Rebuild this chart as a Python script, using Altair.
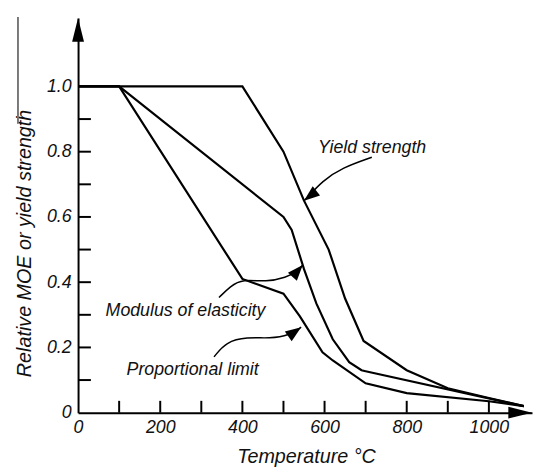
import math
import altair as alt
import pandas as pd

# ---------------- data ----------------
yield_T = [0, 400, 500, 550, 610, 650, 695, 800, 900, 1000, 1085]
yield_v = [1.0, 1.0, 0.80, 0.65, 0.50, 0.35, 0.22, 0.13, 0.075, 0.045, 0.02]

moe_T = [0, 100, 500, 520, 550, 580, 620, 660, 690, 700, 1085]
moe_v = [1.0, 1.0, 0.60, 0.56, 0.44, 0.335, 0.225, 0.155, 0.13, 0.127, 0.02]

pl_T = [0, 100, 400, 500, 540, 595, 620, 700, 800, 1000, 1085]
pl_v = [1.0, 1.0, 0.41, 0.365, 0.295, 0.185, 0.16, 0.09, 0.06, 0.035, 0.02]

x_tick_values = [100, 200, 300, 400, 500, 600, 700, 800, 900, 1000]
x_label_values = [0, 200, 400, 600, 800, 1000]
y_tick_values = [0.1, 0.2, 0.3, 0.4, 0.5, 0.6, 0.7, 0.8, 0.9]
y_label_values = [0, 0.2, 0.4, 0.6, 0.8, 1.0]

label_names = ["Yield strength", "Modulus of elasticity", "Proportional limit"]
label_T = [584, 67, 118]
label_v = [0.796, 0.296, 0.115]

# leader (arrow) curves for the labels
arrow_yield_T = [715, 643, 595, 555, 550]
arrow_yield_v = [0.783, 0.751, 0.711, 0.655, 0.650]
arrow_moe_T = [343, 371, 400, 459, 507, 531, 547]
arrow_moe_v = [0.353, 0.388, 0.410, 0.400, 0.415, 0.430, 0.453]
arrow_pl_T = [331, 360, 411, 467, 515, 543]
arrow_pl_v = [0.171, 0.217, 0.232, 0.227, 0.237, 0.262]

X_MAX = 1105
Y_MAX = 1.21
W, H = 460, 400
FONT = "Liberation Sans"

# ---------------- tables ----------------
rows = []
for name, T, v in [("Yield strength", yield_T, yield_v),
                   ("Modulus of elasticity", moe_T, moe_v),
                   ("Proportional limit", pl_T, pl_v)]:
    for i, (t, val) in enumerate(zip(T, v)):
        rows.append({"series": name, "T": t, "v": val, "i": i})
curves = pd.DataFrame(rows)

kx = W / X_MAX
ky = H / Y_MAX
arows, heads = [], []
for name, T, v in [("y", arrow_yield_T, arrow_yield_v),
                   ("m", arrow_moe_T, arrow_moe_v),
                   ("p", arrow_pl_T, arrow_pl_v)]:
    for i, (t, val) in enumerate(zip(T, v)):
        arows.append({"a": name, "T": t, "v": val, "i": i})
    dx = (T[-1] - T[-2]) * kx
    dy = -(v[-1] - v[-2]) * ky
    ang = math.degrees(math.atan2(dy, dx)) % 360
    heads.append({"T": T[-1], "v": v[-1], "ang": ang})
arrows = pd.DataFrame(arows)
heads = pd.DataFrame(heads)

labels = pd.DataFrame({"name": label_names, "T": label_T, "v": label_v})
axis_heads = pd.DataFrame({"T": [0, X_MAX], "v": [Y_MAX, 0], "ang": [270, 0]})
xt = pd.DataFrame({"T": x_tick_values})
yt = pd.DataFrame({"v": y_tick_values})

xs = alt.Scale(domain=[0, X_MAX], nice=False, zero=False)
ys = alt.Scale(domain=[0, Y_MAX], nice=False, zero=False)

x_axis = alt.Axis(
    values=x_label_values, format="d", title="Temperature °C", grid=False, ticks=False,
    domain=True, domainColor="black", domainWidth=2,
    labelFont=FONT, labelFontSize=18, labelFontStyle="italic", labelColor="#111",
    labelPadding=6, labelFlush=False, labelOverlap=False,
    titleFont=FONT, titleFontSize=20, titleFontStyle="italic", titleFontWeight="normal",
    titleColor="#111", titleX=231, titleY=44, titleBaseline="middle", titleAlign="center")
y_axis = alt.Axis(
    values=y_label_values, title="Relative MOE or yield strength", grid=False, ticks=False,
    domain=True, domainColor="black", domainWidth=2,
    labelExpr="datum.value == 0 ? '0' : format(datum.value, '.1f')",
    labelFont=FONT, labelFontSize=18, labelFontStyle="italic", labelColor="#111",
    labelPadding=7, labelFlush=False, labelOverlap=False,
    titleFont=FONT, titleFontSize=20, titleFontStyle="italic", titleFontWeight="normal",
    titleColor="#111", titleAngle=270, titleX=-54, titleY=228,
    titleBaseline="middle", titleAlign="center")

X = alt.X("T:Q", scale=xs, axis=x_axis)
Y = alt.Y("v:Q", scale=ys, axis=y_axis)

lines = alt.Chart(curves).mark_line(color="black", strokeWidth=2.2).encode(
    x=X, y=Y, detail="series:N", order="i:Q")

ytick = alt.Chart(yt).mark_rule(color="black", strokeWidth=2).encode(
    y=Y, x=alt.value(0), x2=alt.value(13))
xtick = alt.Chart(xt).mark_rule(color="black", strokeWidth=2).encode(
    x=X, y=alt.value(H), y2=alt.value(H - 12))

leaders = alt.Chart(arrows).mark_line(color="black", strokeWidth=1.5, interpolate="basis").encode(
    x=X, y=Y, detail="a:N", order="i:Q")
leader_heads = alt.Chart(heads).mark_point(
    shape="M0,0L-2,-0.75L-2,0.75Z", filled=True, color="black", opacity=1, size=256,
    strokeWidth=0).encode(x=X, y=Y, angle=alt.Angle("ang:Q", scale=None))

axis_arrows = alt.Chart(axis_heads).mark_point(
    shape="M0,0L-2,-0.5L-2,0.5Z", filled=True, color="black", opacity=1, size=576,
    strokeWidth=0).encode(x=X, y=Y, angle=alt.Angle("ang:Q", scale=None))

texts = alt.Chart(labels).mark_text(
    font=FONT, fontSize=18, fontStyle="italic", align="left", baseline="alphabetic",
    color="#111").encode(x=X, y=Y, text="name:N")

edge = alt.Chart(labels).mark_rule(color="#777", strokeWidth=1.5).encode(
    x=alt.value(-61), y=alt.value(-1), y2=alt.value(107))

chart = alt.layer(lines, ytick, xtick, leaders, leader_heads, axis_arrows, texts, edge).properties(
    width=W, height=H,
    padding={"left": 71, "top": 7, "right": 1, "bottom": 54},
    autosize=alt.AutoSizeParams(type="none"),
    background="white",
).configure_view(stroke=None)

chart.save("out.html", embed_options={"renderer": "svg", "actions": False})
